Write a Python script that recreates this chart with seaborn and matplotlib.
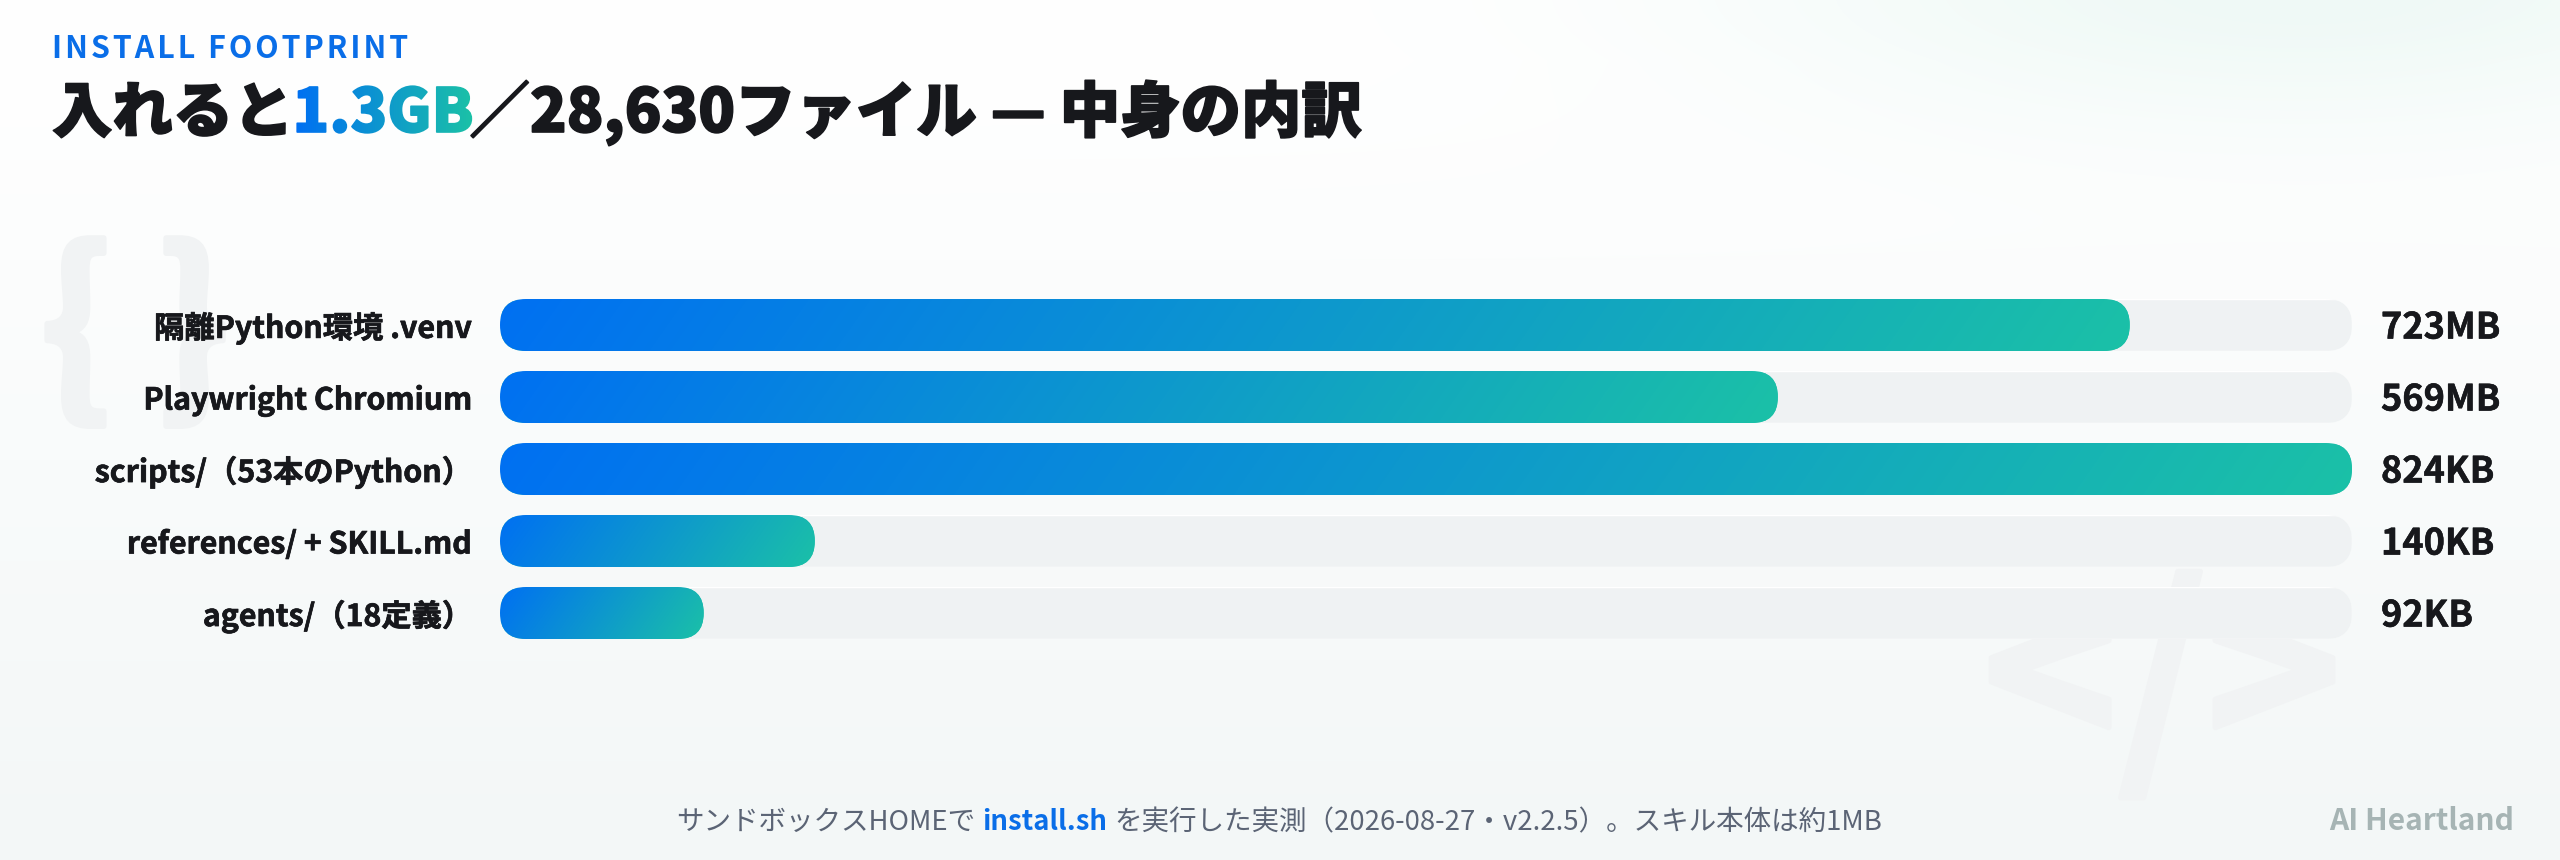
import numpy as np
import pandas as pd
import matplotlib
matplotlib.use("Agg")
import matplotlib.pyplot as plt
import matplotlib.patheffects as pe
import seaborn as sns
from matplotlib.colors import to_rgb
from matplotlib.patches import FancyBboxPatch

categories = ["隔離Python環境 .venv", "Playwright Chromium", "scripts/（53本のPython）",
              "references/ + SKILL.md", "agents/（18定義）"]
bar_percent = [88, 69, 100, 17, 11]
value_labels = ["723MB", "569MB", "824KB", "140KB", "92KB"]
track_percent = [100, 100, 100, 100, 100]

BLUE, TEAL = "#0070f2", "#1bc1a7"
TRACK, INK = "#eff2f3", "#17181c"
W, H = 2560, 860
JP = ["Noto Sans CJK JP", "DejaVu Sans"]

sns.set_theme(style="white")
plt.rcParams["font.family"] = JP

fig = plt.figure(figsize=(W / 100, H / 100), dpi=100)

# page layer in pixel coordinates
bg = fig.add_axes([0, 0, 1, 1], zorder=-2)
bg.set_xlim(0, W); bg.set_ylim(H, 0); bg.axis("off")
yy, xx = np.mgrid[0:H, 0:W]
tv = np.clip((yy - 60) / (H - 60), 0, 1)
glow = np.exp(-(((xx - 2300) / 560) ** 2 + ((yy + 10) / 135) ** 2))
page = np.ones((H, W, 3))
page -= tv[..., None] * (1 - np.array(to_rgb("#f3f7f7")))
page -= glow[..., None] * (1 - np.array(to_rgb("#eff9f6")))
page = np.clip(page, 0, 1)
bg.imshow(page, extent=(0, W, H, 0), aspect="auto", zorder=0, interpolation="bilinear")
bg.set_xlim(0, W); bg.set_ylim(H, 0)

WM = "#f1f3f4"
for s, px, py, size in [("{ }", 135, 337, 139), ("</>", 2162, 689, 165)]:
    wm = bg.text(px, py, s, fontsize=size, color=WM, weight="bold", ha="center", va="center", zorder=1)
    wm.set_path_effects([pe.withStroke(linewidth=4, foreground=WM)])

# bars
ax = fig.add_axes([500 / W, 1 - 649 / H, 1852 / W, 360 / H], zorder=1)
ax.patch.set_alpha(0)
df = pd.DataFrame({"category": categories, "bar": bar_percent, "track": track_percent})
sns.barplot(data=df, x="track", y="category", color=TRACK, width=52 / 72, saturation=1, ax=ax)
track_container = ax.containers[0]
sns.barplot(data=df, x="bar", y="category", color=TEAL, width=52 / 72, saturation=1, ax=ax)
bar_container = ax.containers[1]
ax.set_xlim(0, 100)
ax.set_ylim(4.5, -0.5)
sns.despine(ax=ax, left=True, bottom=True)
ax.set_xlabel(""); ax.set_ylabel(""); ax.set_xticks([])
ax.tick_params(axis="y", length=0, pad=28 / 100 * 72)
for t in ax.get_yticklabels():
    t.set_fontsize(21.8); t.set_fontweight("bold"); t.set_color(INK)
    t.set_path_effects([pe.withStroke(linewidth=0.5, foreground=INK)])

xpx = 100 / 1852
ypx = 1 / 72
R = 26


def rounded(b, color):
    p = FancyBboxPatch((b.get_x(), b.get_y()), b.get_width(), b.get_height(),
                       boxstyle=f"round,pad=0,rounding_size={R * xpx}",
                       mutation_aspect=ypx / xpx, fc=color, ec="none", zorder=1)
    ax.add_patch(p)
    p.set_alpha(0)
    return p


c0, c1 = np.array(to_rgb(BLUE)), np.array(to_rgb(TEAL))
ANGLE = np.deg2rad(125)


def grad_rgb(w, h):
    y, x = np.mgrid[0:h, 0:w]
    L = abs(w * np.sin(ANGLE)) + abs(h * np.cos(ANGLE))
    t = ((x - w / 2) * np.sin(ANGLE) - (y - h / 2) * np.cos(ANGLE)) / L + 0.5
    t = np.clip(t, 0, 1)[..., None]
    return c0 * (1 - t) + c1 * t


for b in track_container:
    b.set_clip_path(rounded(b, TRACK))
for b in bar_container:
    clip = rounded(b, TEAL)
    b.set_clip_path(clip)
    w_px = max(int(round(b.get_width() / xpx)), 2)
    im = ax.imshow(grad_rgb(w_px, 52), aspect="auto", zorder=2, interpolation="bilinear",
                   extent=(b.get_x(), b.get_x() + b.get_width(),
                           b.get_y() + b.get_height(), b.get_y()))
    im.set_clip_path(clip)
ax.set_xlim(0, 100)
ax.set_ylim(4.5, -0.5)

vals = ax.bar_label(track_container, labels=value_labels, padding=29 / 100 * 72, fontsize=26,
                    fontweight="bold", color=INK, clip_on=False)
for a in vals:
    a.xyann = (29 / 100 * 72, -2.2)
    a.set_path_effects([pe.withStroke(linewidth=0.4, foreground=INK)])

# heading
r = fig.canvas.get_renderer()


def gradient_filter(image, dpi):
    out = image.copy()
    w = image.shape[1]
    t = np.linspace(0, 1, w)[None, :, None]
    out[..., :3] = c0 * (1 - t) + c1 * t
    return out, 0, 0


HS = "\u200a"
bg.text(52, 58, HS.join("INSTALL FOOTPRINT"), fontsize=21.9, weight="bold", color="#0a6ee8",
        ha="left", va="baseline", zorder=3)

x = 52
for s, col, gap in [("入れると", INK, -1), ("1.3GB", None, -4), ("／28,630ファイル — 中身の内訳", INK, 0)]:
    t = bg.text(x, 132, s, fontsize=43.5, weight=900, color=col or BLUE, ha="left", va="baseline", zorder=3)
    t.set_path_effects([pe.withStroke(linewidth=1.2, foreground=col or BLUE)])
    if col is None:
        t.set_agg_filter(gradient_filter)
    x = t.get_window_extent(r).x1 + gap

# footnote
parts = [("サンドボックスHOMEで", "normal", "#5b6475"), ("install.sh", "bold", "#0a6ee8"),
         ("を実行した実測（2026-08-27・v2.2.5）。スキル本体は約1MB", "normal", "#5b6475")]
x = 676
for i, (s, wt, col) in enumerate(parts):
    t = bg.text(x, 830, s, fontsize=19.85, weight=wt, color=col, ha="left", va="baseline", zorder=3)
    x = t.get_window_extent(r).x1 + 7

bg.text(2514, 830, "AI Heartland", fontsize=21.6, weight="bold", color="#a6b4b4",
        ha="right", va="baseline", zorder=3)

fig.savefig("out.png", dpi=100)
